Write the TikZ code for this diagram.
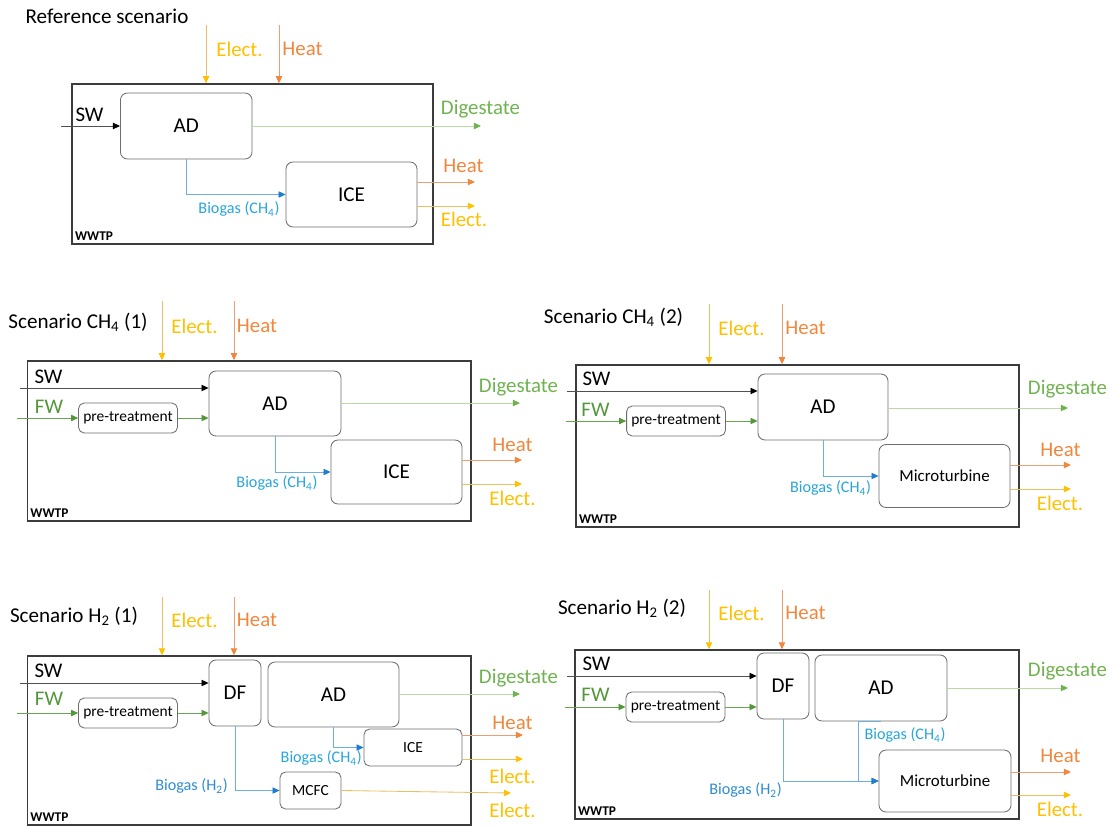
\documentclass[tikz,border=0pt]{standalone}
\usepackage{fontspec}
\setmainfont{Carlito}
\usepackage{xcolor}
\usepackage{tikz}
\usetikzlibrary{arrows.meta, positioning, calc}
\definecolor{elect}{RGB}{255,192,0}
\definecolor{electline}{RGB}{232,192,100}
\definecolor{heat}{RGB}{240,135,60}
\definecolor{heatline}{RGB}{232,160,115}
\definecolor{digest}{RGB}{112,178,80}
\definecolor{digestline}{RGB}{185,218,165}
\definecolor{fwgreen}{RGB}{84,150,58}
\definecolor{fwline}{RGB}{105,165,80}
\definecolor{gasch}{RGB}{40,165,220}
\definecolor{gash}{RGB}{45,140,210}
\definecolor{gasline}{RGB}{110,175,225}
\definecolor{gashead}{RGB}{30,125,210}
\definecolor{swline}{RGB}{80,80,80}
\definecolor{boxgray}{RGB}{110,110,110}
\definecolor{plantgray}{RGB}{60,60,60}
\tikzset{
    procbox/.style={
        rectangle,
        rounded corners=5pt,
        draw=boxgray,
        line width=0.6pt,
        fill=white,
        text centered,
        font=\fontsize{15}{17}\selectfont
    },
    smallproc/.style={
        procbox,
        rounded corners=4pt,
        font=\fontsize{11}{13}\selectfont
    },
    plantbox/.style={
        rectangle,
        draw=plantgray,
        line width=1pt
    },
    plantlabel/.style={
        font=\fontsize{9.5}{11}\selectfont\bfseries,
        inner sep=2.5pt
    },
    title/.style={
        font=\fontsize{15}{17}\selectfont,
        inner sep=0pt
    },
    flowlabel/.style={
        font=\fontsize{14.8}{17}\selectfont,
        inner sep=0pt
    },
    gaslabel/.style={
        font=\fontsize{11.5}{13}\selectfont,
        inner sep=0pt
    },
    flow/.style={
        line width=0.6pt
    },
    elecflow/.style={
        flow,
        draw=electline,
        -{Triangle[length=5pt,width=4.5pt,color=elect]}
    },
    heatflow/.style={
        flow,
        draw=heatline,
        -{Triangle[length=5pt,width=4.5pt,color=heat]}
    },
    digflow/.style={
        flow,
        draw=digestline,
        -{Triangle[length=5pt,width=4.5pt,color=digest]}
    },
    fwflow/.style={
        flow,
        draw=fwline,
        -{Triangle[length=5pt,width=4.5pt,color=fwgreen]}
    },
    swflow/.style={
        flow,
        draw=swline,
        -{Triangle[length=5pt,width=4.5pt,color=black]}
    },
    gasflow/.style={
        flow,
        draw=gasline,
        -{Triangle[length=5pt,width=4.5pt,color=gashead]}
    }
}

\begin{document}
\begin{tikzpicture}[x=0.025cm, y=-0.025cm]
\useasboundingbox (0,0) rectangle (1115,827);

% Reference scenario
\node[title] (r-title) at (107,16) {Reference scenario};
\node[plantbox, minimum width=9.025cm, minimum height=4cm] (r-wwtp) at (252.5,164) {};
\node[plantlabel, anchor=south west] (r-wwtplbl) at (r-wwtp.south west) {WWTP};
\node[procbox, minimum width=3.29cm, minimum height=1.65cm] (r-ad) at (186.25,126) {AD};
\node[procbox, minimum width=3.275cm, minimum height=1.625cm] (r-ice) at (351.5,194.5) {ICE};

\coordinate (r-elin) at (206,25);
\coordinate (r-htin) at (279,25);
\draw[elecflow] (r-elin) -- (r-elin |- r-wwtp.north);
\draw[heatflow] (r-htin) -- (r-htin |- r-wwtp.north);
\node[flowlabel, text=elect] (r-ellbl) at (239.5,49) {Elect.};
\node[flowlabel, text=heat] (r-htlbl) at (302.5,49) {Heat};

\coordinate (r-swin) at (61,126);
\draw[swflow] (r-swin) -- (r-swin -| r-ad.west);
\node[flowlabel] (r-swlbl) at (89.5,115) {SW};

\coordinate (r-digout) at (481,126);
\draw[digflow] (r-ad.east |- r-digout) -- (r-digout);
\node[flowlabel, text=digest] (r-diglbl) at (480.5,109) {Digestate};
\draw[gasflow] (r-ad.south) |- (r-ice.west);
\node[gaslabel, text=gasch] (r-gaslbl) at (239,209) {Biogas (CH\textsubscript{4})};

\coordinate (r-htout) at (475,182);
\coordinate (r-elout) at (475,206);
\draw[heatflow] (r-ice.east |- r-htout) -- (r-htout);
\draw[elecflow] (r-ice.east |- r-elout) -- (r-elout);
\node[flowlabel, text=heat] (r-htoutlbl) at (463.5,166) {Heat};
\node[flowlabel, text=elect] (r-eloutlbl) at (464,219) {Elect.};

% Scenario CH4 (1)
\node[title] (c1-title) at (78,322) {Scenario CH\textsubscript{4} (1)};
\node[plantbox, minimum width=11.09cm, minimum height=4cm] (c1-wwtp) at (249.25,441) {};
\node[plantlabel, anchor=south west] (c1-wwtplbl) at (c1-wwtp.south west) {WWTP};
\node[procbox, minimum width=3.3cm, minimum height=1.625cm] (c1-ad) at (275,403.5) {AD};
\node[smallproc, minimum width=2.45cm, minimum height=0.75cm] (c1-pre) at (128,418) {pre-treatment};
\node[procbox, minimum width=3.275cm, minimum height=1.6cm] (c1-ice) at (396.5,472) {ICE};

\coordinate (c1-elin) at (162,301);
\coordinate (c1-htin) at (234,301);
\draw[elecflow] (c1-elin) -- (c1-elin |- c1-wwtp.north);
\draw[heatflow] (c1-htin) -- (c1-htin |- c1-wwtp.north);
\node[flowlabel, text=elect] (c1-ellbl) at (194.5,326) {Elect.};
\node[flowlabel, text=heat] (c1-htlbl) at (257,326) {Heat};

\coordinate (c1-swin) at (20,388);
\coordinate (c1-fwin) at (17,418);
\draw[swflow] (c1-swin) -- (c1-swin -| c1-ad.west);
\draw[fwflow] (c1-fwin) -- (c1-pre.west);
\draw[fwflow] (c1-pre.east) -- (c1-pre.east -| c1-ad.west);
\node[flowlabel] (c1-swlbl) at (48.5,377) {SW};
\node[flowlabel, text=fwgreen] (c1-fwlbl) at (49,407) {FW};

\coordinate (c1-digout) at (520,403);
\draw[digflow] (c1-ad.east |- c1-digout) -- (c1-digout);
\node[flowlabel, text=digest] (c1-diglbl) at (518.5,387) {Digestate};
\draw[gasflow] (c1-ad.south) |- (c1-ice.west);
\node[gaslabel, text=gasch] (c1-gaslbl) at (277,483) {Biogas (CH\textsubscript{4})};

\coordinate (c1-htout) at (522,460);
\coordinate (c1-elout) at (522,484);
\draw[heatflow] (c1-ice.east |- c1-htout) -- (c1-htout);
\draw[elecflow] (c1-ice.east |- c1-elout) -- (c1-elout);
\node[flowlabel, text=heat] (c1-htoutlbl) at (512.5,445) {Heat};
\node[flowlabel, text=elect] (c1-eloutlbl) at (512.5,498) {Elect.};

% Scenario CH4 (2)
\node[title] (c2-title) at (613.5,317) {Scenario CH\textsubscript{4} (2)};
\node[plantbox, minimum width=11.075cm, minimum height=4.05cm] (c2-wwtp) at (797.5,446) {};
\node[plantlabel, anchor=south west] (c2-wwtplbl) at (c2-wwtp.south west) {WWTP};
\node[procbox, minimum width=3.25cm, minimum height=1.65cm] (c2-ad) at (823,407) {AD};
\node[smallproc, minimum width=2.45cm, minimum height=0.75cm] (c2-pre) at (676,421) {pre-treatment};
\node[procbox, minimum width=3.275cm, minimum height=1.575cm, font=\fontsize{12}{14}\selectfont] (c2-mt) at (944.5,476) {Microturbine};

\coordinate (c2-elin) at (709,304);
\coordinate (c2-htin) at (782,304);
\draw[elecflow] (c2-elin) -- (c2-elin |- c2-wwtp.north);
\draw[heatflow] (c2-htin) -- (c2-htin |- c2-wwtp.north);
\node[flowlabel, text=elect] (c2-ellbl) at (741.5,328) {Elect.};
\node[flowlabel, text=heat] (c2-htlbl) at (805.5,328) {Heat};

\coordinate (c2-swin) at (567,391);
\coordinate (c2-fwin) at (566,421);
\draw[swflow] (c2-swin) -- (c2-swin -| c2-ad.west);
\draw[fwflow] (c2-fwin) -- (c2-pre.west);
\draw[fwflow] (c2-pre.east) -- (c2-pre.east -| c2-ad.west);
\node[flowlabel] (c2-swlbl) at (596.5,379) {SW};
\node[flowlabel, text=fwgreen] (c2-fwlbl) at (595.5,410) {FW};

\coordinate (c2-digout) at (1068,408);
\draw[digflow] (c2-ad.east |- c2-digout) -- (c2-digout);
\node[flowlabel, text=digest] (c2-diglbl) at (1067.5,389) {Digestate};
\draw[gasflow] (c2-ad.south) |- (c2-mt.west);
\node[gaslabel, text=gasch] (c2-gaslbl) at (830.5,488) {Biogas (CH\textsubscript{4})};

\coordinate (c2-htout) at (1071,465);
\coordinate (c2-elout) at (1071,489);
\draw[heatflow] (c2-mt.east |- c2-htout) -- (c2-htout);
\draw[elecflow] (c2-mt.east |- c2-elout) -- (c2-elout);
\node[flowlabel, text=heat] (c2-htoutlbl) at (1060.5,450) {Heat};
\node[flowlabel, text=elect] (c2-eloutlbl) at (1060,503) {Elect.};

% Scenario H2 (1)
\node[title] (h1-title) at (74,616) {Scenario H\textsubscript{2} (1)};
\node[plantbox, minimum width=11.09cm, minimum height=4.225cm] (h1-wwtp) at (249.25,740.5) {};
\node[plantlabel, anchor=south west] (h1-wwtplbl) at (h1-wwtp.south west) {WWTP};
\node[procbox, minimum width=1.3cm, minimum height=1.65cm] (h1-df) at (235,693) {DF};
\node[procbox, minimum width=3.275cm, minimum height=1.625cm] (h1-ad) at (333.5,694.5) {AD};
\node[smallproc, minimum width=2.45cm, minimum height=0.75cm] (h1-pre) at (128,713) {pre-treatment};
\node[smallproc, minimum width=2.45cm, minimum height=0.925cm] (h1-ice) at (413,747.5) {ICE};
\node[smallproc, minimum width=1.525cm, minimum height=0.925cm] (h1-mcfc) at (310.5,790.5) {MCFC};

\coordinate (h1-elin) at (162,597);
\coordinate (h1-htin) at (234,597);
\draw[elecflow] (h1-elin) -- (h1-elin |- h1-wwtp.north);
\draw[heatflow] (h1-htin) -- (h1-htin |- h1-wwtp.north);
\node[flowlabel, text=elect] (h1-ellbl) at (194.5,620) {Elect.};
\node[flowlabel, text=heat] (h1-htlbl) at (257,620) {Heat};

\coordinate (h1-swin) at (20,683);
\coordinate (h1-fwin) at (17,713);
\draw[swflow] (h1-swin) -- (h1-swin -| h1-df.west);
\draw[fwflow] (h1-fwin) -- (h1-pre.west);
\draw[fwflow] (h1-pre.east) -- (h1-pre.east -| h1-df.west);
\node[flowlabel] (h1-swlbl) at (48.5,671) {SW};
\node[flowlabel, text=fwgreen] (h1-fwlbl) at (49,699) {FW};

\coordinate (h1-digout) at (520,694);
\draw[digflow] (h1-ad.east |- h1-digout) -- (h1-digout);
\node[flowlabel, text=digest] (h1-diglbl) at (518.5,678) {Digestate};
\draw[gasflow] (h1-ad.south) |- (h1-ice.west);
\node[gaslabel, text=gasch, anchor=east] (h1-gaschlbl) at (362,758) {Biogas (CH\textsubscript{4})};
\draw[gasflow] (h1-df.south) |- (h1-mcfc.west);
\node[gaslabel, text=gash, anchor=east] (h1-gashlbl) at (228,786) {Biogas (H\textsubscript{2})};

\coordinate (h1-htout) at (523,735);
\coordinate (h1-elout) at (523,759);
\coordinate (h1-fcout) at (511,793);
\draw[heatflow] (h1-ice.east |- h1-htout) -- (h1-htout);
\draw[elecflow] (h1-ice.east |- h1-elout) -- (h1-elout);
\draw[elecflow] (h1-mcfc.east) -- (h1-fcout);
\node[flowlabel, text=heat] (h1-htoutlbl) at (512.5,723) {Heat};
\node[flowlabel, text=elect] (h1-eloutlbl) at (512.5,776) {Elect.};
\node[flowlabel, text=elect] (h1-fcoutlbl) at (512.5,810) {Elect.};

% Scenario H2 (2)
\node[title] (h2-title) at (622,608) {Scenario H\textsubscript{2} (2)};
\node[plantbox, minimum width=11.1cm, minimum height=4.225cm] (h2-wwtp) at (797,734.5) {};
\node[plantlabel, anchor=south west] (h2-wwtplbl) at (h2-wwtp.south west) {WWTP};
\node[procbox, minimum width=1.3cm, minimum height=1.65cm] (h2-df) at (783,686) {DF};
\node[procbox, minimum width=3.3cm, minimum height=1.65cm] (h2-ad) at (881,688) {AD};
\node[smallproc, minimum width=2.475cm, minimum height=0.75cm] (h2-pre) at (675.5,707) {pre-treatment};
\node[procbox, minimum width=3.3cm, minimum height=1.55cm, font=\fontsize{12}{14}\selectfont] (h2-mt) at (945,781) {Microturbine};

\coordinate (h2-elin) at (709,590);
\coordinate (h2-htin) at (782,590);
\draw[elecflow] (h2-elin) -- (h2-elin |- h2-wwtp.north);
\draw[heatflow] (h2-htin) -- (h2-htin |- h2-wwtp.north);
\node[flowlabel, text=elect] (h2-ellbl) at (741.5,613) {Elect.};
\node[flowlabel, text=heat] (h2-htlbl) at (805.5,613) {Heat};

\coordinate (h2-swin) at (567,676);
\coordinate (h2-fwin) at (565,707);
\draw[swflow] (h2-swin) -- (h2-swin -| h2-df.west);
\draw[fwflow] (h2-fwin) -- (h2-pre.west);
\draw[fwflow] (h2-pre.east) -- (h2-pre.east -| h2-df.west);
\node[flowlabel] (h2-swlbl) at (596.5,664) {SW};
\node[flowlabel, text=fwgreen] (h2-fwlbl) at (595.5,695) {FW};

\coordinate (h2-digout) at (1068,688);
\draw[digflow] (h2-ad.east |- h2-digout) -- (h2-digout);
\node[flowlabel, text=digest] (h2-diglbl) at (1067.5,671) {Digestate};
\coordinate (h2-gasj) at (858,781);
\draw[gasflow] (h2-df.south) |- (h2-mt.west);
\draw[gasflow] (h2-ad.south) -| (h2-gasj) -- (h2-mt.west);
\node[gaslabel, text=gasch] (h2-gaschlbl) at (905,735) {Biogas (CH\textsubscript{4})};
\node[gaslabel, text=gash] (h2-gashlbl) at (745.5,790) {Biogas (H\textsubscript{2})};

\coordinate (h2-htout) at (1071,772);
\coordinate (h2-elout) at (1071,795);
\draw[heatflow] (h2-mt.east |- h2-htout) -- (h2-htout);
\draw[elecflow] (h2-mt.east |- h2-elout) -- (h2-elout);
\node[flowlabel, text=heat] (h2-htoutlbl) at (1060.5,756) {Heat};
\node[flowlabel, text=elect] (h2-eloutlbl) at (1060,809) {Elect.};

\end{tikzpicture}
\end{document}
